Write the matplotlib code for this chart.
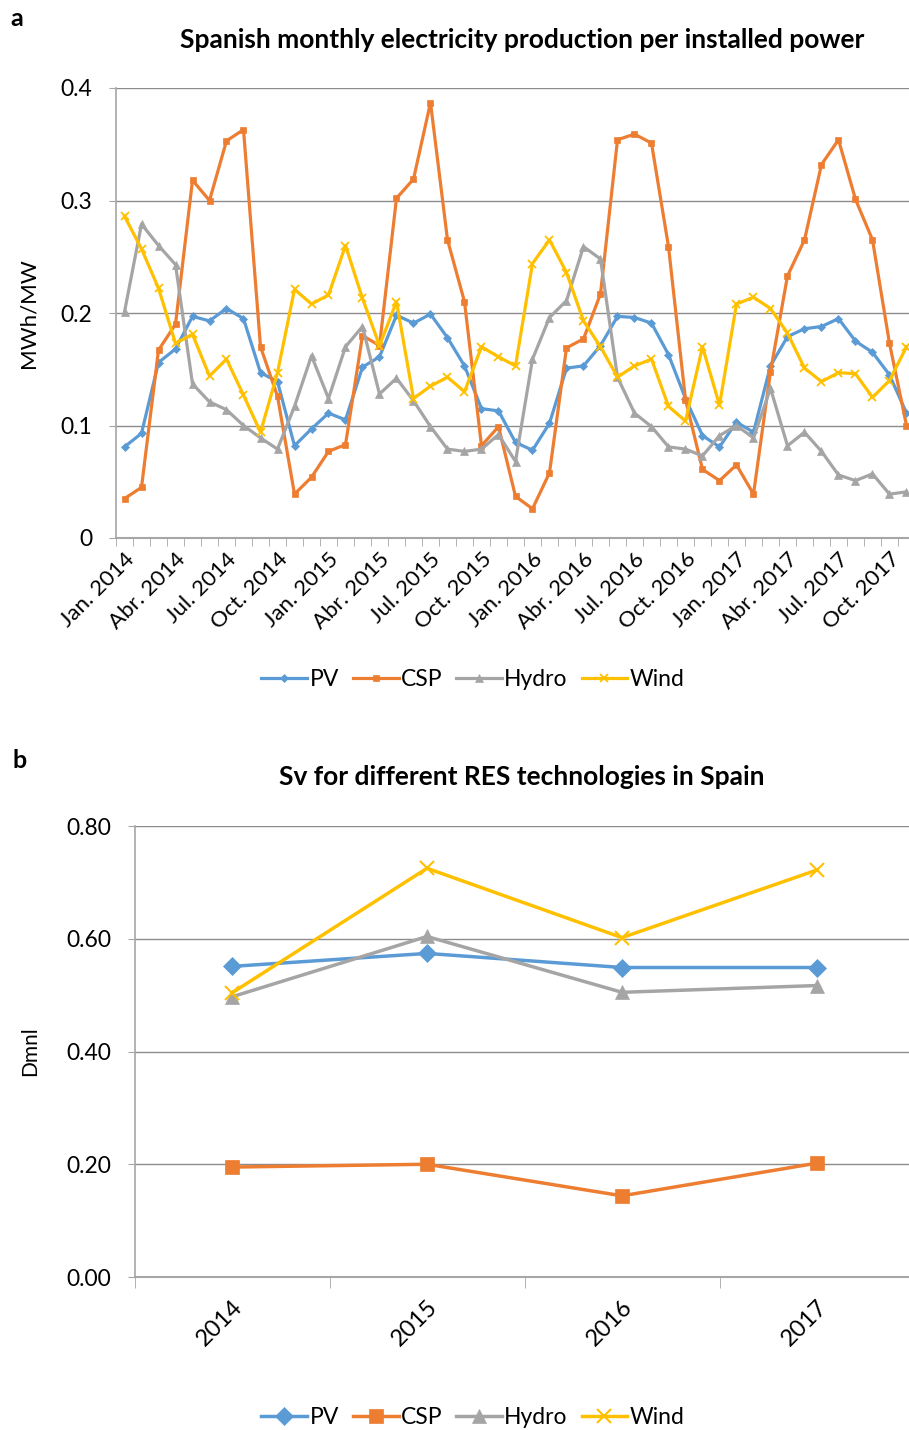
import numpy as np
import matplotlib.pyplot as plt
from matplotlib.ticker import FixedLocator, FormatStrFormatter

plt.rcParams['font.family'] = ['Lato', 'DejaVu Sans']

# %% Data (Jan. 2014 - Nov. 2017 visible)
month_labels = ['Jan. 2014', 'Abr. 2014', 'Jul. 2014', 'Oct. 2014',
                'Jan. 2015', 'Abr. 2015', 'Jul. 2015', 'Oct. 2015',
                'Jan. 2016', 'Abr. 2016', 'Jul. 2016', 'Oct. 2016',
                'Jan. 2017', 'Abr. 2017', 'Jul. 2017', 'Oct. 2017']

pv_monthly = [0.081, 0.093, 0.156, 0.168, 0.197, 0.193, 0.204, 0.195, 0.147, 0.139, 0.082, 0.097,
              0.111, 0.105, 0.152, 0.161, 0.198, 0.191, 0.199, 0.178, 0.153, 0.115, 0.113, 0.085,
              0.078, 0.102, 0.151, 0.153, 0.171, 0.197, 0.196, 0.191, 0.163, 0.124, 0.091, 0.081,
              0.103, 0.094, 0.153, 0.179, 0.186, 0.188, 0.195, 0.175, 0.165, 0.145, 0.111]
csp_monthly = [0.035, 0.045, 0.167, 0.190, 0.318, 0.300, 0.353, 0.363, 0.170, 0.126, 0.039, 0.054,
               0.077, 0.083, 0.180, 0.171, 0.302, 0.319, 0.387, 0.265, 0.210, 0.082, 0.099, 0.037,
               0.026, 0.058, 0.169, 0.177, 0.217, 0.354, 0.359, 0.351, 0.259, 0.123, 0.061, 0.051,
               0.065, 0.039, 0.148, 0.233, 0.265, 0.332, 0.354, 0.301, 0.265, 0.173, 0.100]
hydro_monthly = [0.201, 0.279, 0.260, 0.243, 0.137, 0.121, 0.114, 0.100, 0.089, 0.079, 0.117, 0.162,
                 0.124, 0.170, 0.188, 0.128, 0.142, 0.122, 0.099, 0.079, 0.077, 0.079, 0.092, 0.068,
                 0.159, 0.196, 0.211, 0.259, 0.248, 0.143, 0.111, 0.099, 0.081, 0.079, 0.073, 0.091,
                 0.100, 0.089, 0.133, 0.082, 0.094, 0.077, 0.056, 0.051, 0.057, 0.039, 0.041]
wind_monthly = [0.286, 0.257, 0.222, 0.173, 0.181, 0.144, 0.159, 0.127, 0.094, 0.147, 0.221, 0.208,
                0.216, 0.260, 0.213, 0.171, 0.210, 0.124, 0.135, 0.143, 0.130, 0.170, 0.161, 0.153,
                0.244, 0.265, 0.236, 0.193, 0.170, 0.143, 0.153, 0.159, 0.117, 0.104, 0.170, 0.118,
                0.208, 0.214, 0.204, 0.182, 0.151, 0.139, 0.147, 0.146, 0.125, 0.140, 0.170]

years = ['2014', '2015', '2016', '2017']
pv_sv = [0.551, 0.574, 0.549, 0.549]
csp_sv = [0.195, 0.200, 0.144, 0.202]
hydro_sv = [0.497, 0.604, 0.505, 0.517]
wind_sv = [0.504, 0.725, 0.602, 0.722]

names = ['PV', 'CSP', 'Hydro', 'Wind']
colors = ['#5B9BD5', '#ED7D31', '#A5A5A5', '#FFC000']
markers = ['D', 's', '^', 'x']

W, H = 909, 1430
fig = plt.figure(figsize=(W / 100, H / 100), dpi=100)

def box(x0, y_top, x1, y_bot):
    return [x0 / W, 1 - y_bot / H, (x1 - x0) / W, (y_bot - y_top) / H]

grid_col = '#8C8C8C'
axis_col = '#A6A6A6'

def style_axes(ax):
    for s in ['top', 'right']:
        ax.spines[s].set_visible(False)
    ax.spines['left'].set_color(axis_col)
    ax.spines['bottom'].set_color(axis_col)
    ax.spines['left'].set_linewidth(1.2)
    ax.spines['bottom'].set_linewidth(1.5)
    ax.yaxis.grid(True, color=grid_col, linewidth=1.0)
    ax.set_axisbelow(True)
    ax.tick_params(axis='y', length=5, color=axis_col, labelsize=16.5, pad=12)

# %% a: monthly production per installed power
ax1 = fig.add_axes(box(116, 88, 932, 538))
style_axes(ax1)
x_m = np.arange(len(pv_monthly))
ms_small = [4.5, 5, 5.5, 6]
series_m = [pv_monthly, csp_monthly, hydro_monthly, wind_monthly]
for vals, name, c, m, ms in zip(series_m, names, colors, markers, ms_small):
    ax1.plot(x_m, vals, color=c, marker=m, markersize=ms, linewidth=2.3,
             markeredgewidth=1.3 if m == 'x' else 0.5, label=name)
ax1.set_xlim(-0.5, 47.5)
ax1.set_ylim(0, 0.4)
ax1.set_yticks([0, 0.1, 0.2, 0.3, 0.4])
ax1.set_yticklabels(['0', '0.1', '0.2', '0.3', '0.4'])
ax1.set_xticks(np.arange(0, 48, 3))
ax1.set_xticklabels(month_labels, rotation=45, ha='right', rotation_mode='anchor', fontsize=16)
ax1.xaxis.set_minor_locator(FixedLocator(np.arange(-0.5, 48, 1)))
ax1.tick_params(axis='x', which='major', length=0, pad=8)
ax1.tick_params(axis='x', which='minor', length=6, color=axis_col)
ax1.set_ylabel('MWh/MW', fontsize=16)
ax1.yaxis.set_label_coords(-78 / 816, 0.5)

fig.text(522 / W, 1 - 40 / H, 'Spanish monthly electricity production per installed power',
         ha='center', va='center', fontsize=19, fontweight='bold')
fig.text(10 / W, 1 - 18 / H, 'a', ha='left', va='center', fontsize=18, fontweight='bold')
fig.legend(*ax1.get_legend_handles_labels(), loc='center', ncol=4,
           bbox_to_anchor=(473 / W, 1 - 680 / H), frameon=False, fontsize=16.5,
           handlelength=2.0, handletextpad=0.1, columnspacing=0.6)

# %% b: Sv per technology
ax2 = fig.add_axes(box(134.5, 826, 914.5, 1277))
style_axes(ax2)
x_y = np.arange(len(years))
ms_big = [9, 10, 10, 10]
series_y = [pv_sv, csp_sv, hydro_sv, wind_sv]
for vals, name, c, m, ms in zip(series_y, names, colors, markers, ms_big):
    ax2.plot(x_y, vals, color=c, marker=m, markersize=ms, linewidth=2.5,
             markeredgewidth=1.5 if m == 'x' else 0.5, label=name)
ax2.set_xlim(-0.5, 3.5)
ax2.set_ylim(0, 0.8)
ax2.set_yticks([0, 0.2, 0.4, 0.6, 0.8])
ax2.yaxis.set_major_formatter(FormatStrFormatter('%.2f'))
ax2.set_xticks(x_y)
ax2.set_xticklabels(years, rotation=45, ha='right', rotation_mode='anchor', fontsize=17)
ax2.xaxis.set_minor_locator(FixedLocator(np.arange(-0.5, 4, 1)))
ax2.tick_params(axis='x', which='major', length=0, pad=14)
ax2.tick_params(axis='x', which='minor', length=8, color=axis_col)
ax2.set_ylabel('Dmnl', fontsize=15)
ax2.yaxis.set_label_coords(-94 / 780, 0.5)

fig.text(522 / W, 1 - 777 / H, 'Sv for different RES technologies in Spain',
         ha='center', va='center', fontsize=19, fontweight='bold')
fig.text(12 / W, 1 - 760 / H, 'b', ha='left', va='center', fontsize=18, fontweight='bold')
fig.legend(*ax2.get_legend_handles_labels(), loc='center', ncol=4,
           bbox_to_anchor=(473 / W, 1 - 1418 / H), frameon=False, fontsize=16.5,
           handlelength=2.0, handletextpad=0.1, columnspacing=0.6)

fig.savefig('out.png', dpi=100)
plt.close(fig)
